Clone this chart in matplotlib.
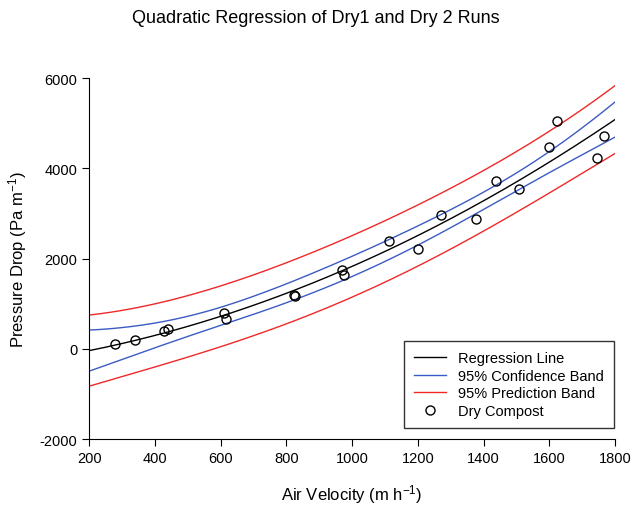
"""
Quadratic regression of Dry1 and Dry 2 runs: fit, confidence and prediction bands
"""
import numpy as np
import matplotlib
matplotlib.use('Agg')
import matplotlib.pyplot as plt

plt.rcParams['font.family'] = ['Liberation Sans', 'DejaVu Sans']
plt.rcParams['mathtext.default'] = 'regular'
plt.rcParams['axes.unicode_minus'] = False

velocidad = [278, 339, 428, 440, 611, 615, 822, 826, 969, 975,
             1113, 1200, 1271, 1377, 1438, 1509, 1600, 1624, 1745, 1766]
caida_presion = [117, 205, 400, 430, 787, 664, 1200, 1170, 1754, 1643,
                 2389, 2212, 2955, 2867, 3730, 3539, 4482, 5043, 4225, 4711]

x_ticks = [200, 400, 600, 800, 1000, 1200, 1400, 1600, 1800]
y_ticks = [-2000, 0, 2000, 4000, 6000]

AZUL = '#3b5bc4'
ROJO = '#f02828'

# Quadratic least squares fit with 95% bands
x = np.array(velocidad, dtype=float)
y = np.array(caida_presion, dtype=float)
X = np.column_stack([np.ones_like(x), x, x**2])
beta, *_ = np.linalg.lstsq(X, y, rcond=None)
resid = y - X @ beta
gl = len(x) - 3
s2 = resid @ resid / gl
t_crit = 2.1098  # t(0.975, 17)
XtX_inv = np.linalg.inv(X.T @ X)

xg = np.linspace(x_ticks[0], x_ticks[-1], 300)
Xg = np.column_stack([np.ones_like(xg), xg, xg**2])
yg = Xg @ beta
h = np.einsum('ij,jk,ik->i', Xg, XtX_inv, Xg)
ci = t_crit * np.sqrt(s2 * h)
pi = t_crit * np.sqrt(s2 * (1 + h))

fig = plt.figure(figsize=(6.31, 5.10), dpi=100)
ax = fig.add_axes([0.1415, 0.137, 0.833, 0.708])

ax.plot(xg, yg, color='black', linewidth=1, label='Regression Line')
ax.plot(xg, yg + ci, color=AZUL, linewidth=1, label='95% Confidence Band')
ax.plot(xg, yg - ci, color=AZUL, linewidth=1)
ax.plot(xg, yg + pi, color=ROJO, linewidth=1, label='95% Prediction Band')
ax.plot(xg, yg - pi, color=ROJO, linewidth=1)
ax.plot(x, y, 'o', markerfacecolor='none', markeredgecolor='black',
        markersize=6.5, markeredgewidth=1, linestyle='none', label='Dry Compost')

ax.set_xlim(x_ticks[0], x_ticks[-1])
ax.set_ylim(y_ticks[0], y_ticks[-1])
ax.set_xticks(x_ticks)
ax.set_yticks(y_ticks)
ax.tick_params(direction='out', length=5, labelsize=10.5)
ax.spines['top'].set_visible(False)
ax.spines['right'].set_visible(False)

ax.set_xlabel('Air Velocity (m h$^{-1}$)', fontsize=12, labelpad=12)
ax.set_ylabel('Pressure Drop (Pa m$^{-1}$)', fontsize=12, labelpad=8)
fig.suptitle('Quadratic Regression of Dry1 and Dry 2 Runs', fontsize=13, y=0.98)

leg = ax.legend(loc='lower right', fontsize=10.5, handlelength=2.2, frameon=True,
                fancybox=False, edgecolor='black', borderpad=0.7,
                labelspacing=0.25, borderaxespad=0,
                bbox_to_anchor=(0.998, 0.03))
leg.get_frame().set_linewidth(1)

fig.savefig('out.png', dpi=100)
